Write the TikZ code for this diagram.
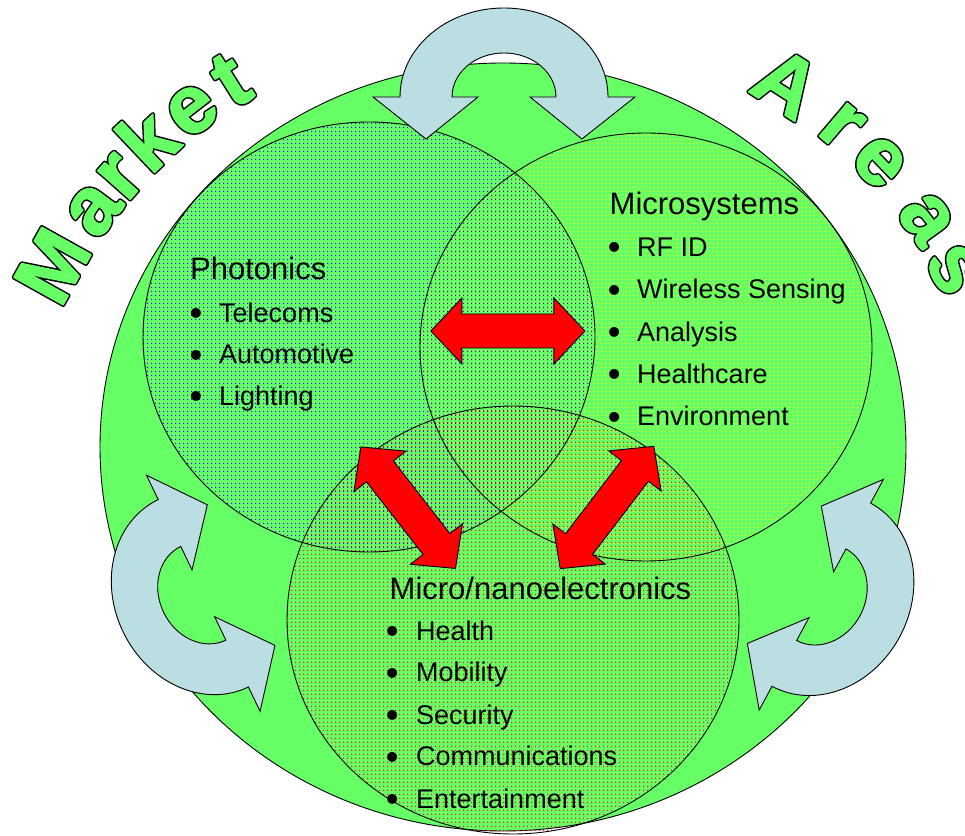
\documentclass[tikz,border=0pt]{standalone}
\usepackage{fontspec}
\setmainfont{Liberation Sans}
\usetikzlibrary{patterns.meta,calc}
\definecolor{mkgreen}{RGB}{102,255,102}
\definecolor{arrowblue}{RGB}{186,222,226}
\definecolor{mkred}{RGB}{255,0,0}
\newcommand\outl[1]{\textcolor{mkgreen}{\rlap{\special{pdf:literal direct 0 G 1 j 1 Tr 4.4 w}#1}\special{pdf:literal direct 0.4 1 0.4 RG 2 Tr 1.4 w}#1\special{pdf:literal direct 0 Tr}}}
\newcommand\bigbul{\raisebox{-3.4pt}{\scalebox{1.35}{•}}}
\newcommand\redarrow[2]{\draw[redarr, shift={(#1)}, rotate=#2] (-77,0) -- (-46,33) -- (-46,17) -- (46,17) -- (46,33) -- (77,0) -- (46,-33) -- (46,-17) -- (-46,-17) -- (-46,-33) -- cycle;}
\newcommand\bluearrow[2]{\draw[bluearr, shift={(#1)}, rotate=#2] (104,0) arc[start angle=0, end angle=180, x radius=104, y radius=89] -- (-131,0) -- (-78,-42) -- (-26,0) -- (-52,0) arc[start angle=180, end angle=0, x radius=52, y radius=44] -- (26,0) -- (78,-42) -- (131,0) -- cycle;}
\tikzset{
  circline/.style={draw=black, line width=0.9pt},
  redarr/.style={fill=mkred, draw=black, line width=0.9pt, line join=miter},
  bluearr/.style={fill=arrowblue, draw=black, line width=0.9pt},
  hdtext/.style={anchor=base west, inner sep=0pt, font=\fontsize{31}{37}\selectfont},
  itemtext/.style={anchor=base west, inner sep=0pt, font=\fontsize{27}{32}\selectfont},
  bultext/.style={anchor=base west, inner sep=0pt, font=\fontsize{27}{32}\selectfont},
  arcletter/.style={anchor=base, inner sep=0pt, font=\fontsize{82}{90}\selectfont\bfseries},
}
\begin{document}
\begin{tikzpicture}[x=1pt,y=1pt]
\useasboundingbox (0,0) rectangle (965,835);
% big area
\filldraw[fill=mkgreen, circline] (503,388) ellipse [x radius=403, y radius=384];
% patterns
\fill[pattern={Dots[radius=0.85pt,distance=4pt]}, pattern color=blue] (369,498) ellipse [x radius=226, y radius=215];
\fill[pattern={Dots[radius=0.85pt,distance=4pt,xshift=2pt]}, pattern color=yellow] (646,488) ellipse [x radius=226, y radius=214];
\fill[pattern={Dots[radius=0.85pt,distance=4pt,yshift=2pt]}, pattern color=red] (513,215) ellipse [x radius=226, y radius=214];
% outlines
\draw[circline] (369,498) ellipse [x radius=226, y radius=215];
\draw[circline] (646,488) ellipse [x radius=226, y radius=214];
\draw[circline] (513,215) ellipse [x radius=226, y radius=214];
% red double arrows
\redarrow{507.9,504}{0}
\redarrow{408.2,327.3}{-52.1}
\redarrow{607,327.5}{52.6}
% blue circular arrows
\bluearrow{504,738}{0}
\bluearrow{203.3,241.7}{115.7}
\bluearrow{821.3,240.3}{-118.3}
% Photonics
\node[hdtext] (ph) at (190,555) {Photonics};
\node[bultext] (phb1) at (189.5,512.5) {\bigbul};
\node[itemtext] (ph1) at (219,512.5) {Telecoms};
\node[bultext] (phb2) at (189.5,471) {\bigbul};
\node[itemtext] (ph2) at (219,471) {Automotive};
\node[bultext] (phb3) at (189.5,429.5) {\bigbul};
\node[itemtext] (ph3) at (219,429.5) {Lighting};
% Microsystems
\node[hdtext] (ms) at (609.5,620) {Microsystems};
\node[bultext] (msb1) at (607.6,578.5) {\bigbul};
\node[itemtext] (ms1) at (637,578.5) {RF ID};
\node[bultext] (msb2) at (607.6,536.2) {\bigbul};
\node[itemtext] (ms2) at (637,536.2) {Wireless Sensing};
\node[bultext] (msb3) at (607.6,493.9) {\bigbul};
\node[itemtext] (ms3) at (637,493.9) {Analysis};
\node[bultext] (msb4) at (607.6,451.6) {\bigbul};
\node[itemtext] (ms4) at (637,451.6) {Healthcare};
\node[bultext] (msb5) at (607.6,409.3) {\bigbul};
\node[itemtext] (ms5) at (637,409.3) {Environment};
% Micro/nanoelectronics
\node[hdtext] (ne) at (389.5,235) {Micro/nanoelectronics};
\node[bultext] (neb1) at (385.6,195) {\bigbul};
\node[itemtext] (ne1) at (416,195) {Health};
\node[bultext] (neb2) at (385.6,153.3) {\bigbul};
\node[itemtext] (ne2) at (416,153.3) {Mobility};
\node[bultext] (neb3) at (385.6,110.7) {\bigbul};
\node[itemtext] (ne3) at (416,110.7) {Security};
\node[bultext] (neb4) at (385.6,69.3) {\bigbul};
\node[itemtext] (ne4) at (416,69.3) {Communications};
\node[bultext] (neb5) at (385.6,26.7) {\bigbul};
\node[itemtext] (ne5) at (416,26.7) {Entertainment};
% arc letters
\coordinate (arcC) at (507,316);
\node[arcletter, rotate=60.9] (mk1) at ($(arcC)+(150.9:492)$) {\outl{M}};
\node[arcletter, rotate=53.2] (mk2) at ($(arcC)+(143.2:494)$) {\outl{a}};
\node[arcletter, rotate=48.5] (mk3) at ($(arcC)+(138.5:494)$) {\outl{r}};
\node[arcletter, rotate=43.5] (mk4) at ($(arcC)+(133.5:494)$) {\outl{k}};
\node[arcletter, rotate=37.6] (mk5) at ($(arcC)+(127.6:494)$) {\outl{e}};
\node[arcletter, rotate=32.2] (mk6) at ($(arcC)+(122.2:492)$) {\outl{t}};
\node[arcletter, rotate=-32.7] (ar1) at ($(arcC)+(57.3:490)$) {\outl{A}};
\node[arcletter, rotate=-40.4] (ar2) at ($(arcC)+(49.6:494)$) {\outl{r}};
\node[arcletter, rotate=-46.2] (ar3) at ($(arcC)+(43.8:494)$) {\outl{e}};
\node[arcletter, rotate=-54.4] (ar4) at ($(arcC)+(35.6:494)$) {\outl{a}};
\node[arcletter, rotate=-60.8] (ar5) at ($(arcC)+(29.2:490)$) {\outl{s}};
\end{tikzpicture}
\end{document}
